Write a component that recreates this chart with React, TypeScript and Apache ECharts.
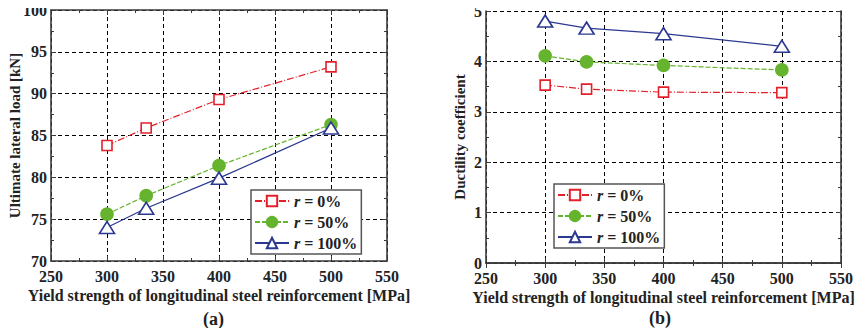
import React, { useEffect, useRef } from "react";
import * as echarts from "echarts";

// Yield strength of longitudinal steel reinforcement [MPa]
const yieldStrength = [300, 335, 400, 500];
const ratioNames = ["0%", "50%", "100%"];

// Ultimate lateral load [kN]
const loadR0 = [83.8, 85.9, 89.3, 93.2];
const loadR50 = [75.6, 77.8, 81.4, 86.3];
const loadR100 = [74.0, 76.3, 79.9, 85.9];

// Ductility coefficient
const ductR0 = [3.53, 3.45, 3.39, 3.38];
const ductR50 = [4.11, 3.99, 3.92, 3.83];
const ductR100 = [4.8, 4.66, 4.55, 4.3];

const FONT = "Liberation Serif";
const RED = "#e3202a";
const GREEN = "#66b32e";
const BLUE = "#2b3990";
const FRAME = "#3a3a3a";
const TEXT = "#222";

const pair = (ys: number[]) => yieldStrength.map((x, i) => [x, ys[i]]);

const seriesStyles = [
  { color: RED, line: [7, 2, 1, 2], symbol: "rect", size: 10, fill: "#fff" },
  { color: GREEN, line: [5, 2], symbol: "circle", size: 12, fill: GREEN },
  { color: BLUE, line: "solid", symbol: "triangle", size: [15, 12], fill: "#fff" },
];

function makeSeries(grid: number, data: number[][]) {
  return data.map((ys, k) => {
    const s = seriesStyles[k];
    return {
      type: "line",
      name: ratioNames[k],
      xAxisIndex: grid * 2,
      yAxisIndex: grid * 2,
      data: pair(ys),
      symbol: s.symbol,
      symbolSize: s.size,
      z: 5 + k,
      lineStyle: { color: s.color, width: 1.2, type: s.line },
      itemStyle: { color: s.fill, borderColor: s.color, borderWidth: 1.6 },
    };
  });
}

function xAxes(grid: number) {
  const base = {
    type: "value",
    gridIndex: grid,
    min: 250,
    max: 550,
    interval: 50,
    axisLine: { show: true, lineStyle: { color: FRAME, width: 1.6 } },
    axisTick: { show: true, inside: true, length: 5, lineStyle: { color: FRAME } },
    minorTick: { show: true, splitNumber: 2, length: 3, lineStyle: { color: FRAME } },
  };
  return [
    {
      ...base,
      position: "bottom",
      name: "Yield strength of longitudinal steel reinforcement [MPa]",
      nameLocation: "middle",
      nameGap: 26,
      nameMoveOverlap: false,
      nameTextStyle: { fontFamily: FONT, fontWeight: "bold", fontSize: 16, color: TEXT },
      axisLabel: { fontFamily: FONT, fontWeight: "bold", fontSize: 16, lineHeight: 13, color: TEXT, margin: 9 },
      splitLine: { show: true, lineStyle: { color: "#000", type: [4, 3], width: 1 } },
    },
    {
      ...base,
      position: "top",
      axisLabel: { show: false },
      splitLine: { show: false },
    },
  ];
}

function yAxes(grid: number, min: number, max: number, interval: number, name: string, gap: number) {
  const base = {
    type: "value",
    gridIndex: grid,
    min,
    max,
    interval,
    axisLine: { show: true, lineStyle: { color: FRAME, width: 1.6 } },
    axisTick: { show: true, inside: true, length: 5, lineStyle: { color: FRAME } },
    minorTick: { show: true, splitNumber: 2, length: 3, lineStyle: { color: FRAME } },
  };
  return [
    {
      ...base,
      position: "left",
      name,
      nameLocation: "middle",
      nameGap: gap,
      nameRotate: 90,
      nameMoveOverlap: false,
      nameTextStyle: { fontFamily: FONT, fontWeight: "bold", fontSize: 15, color: TEXT },
      axisLabel: { fontFamily: FONT, fontWeight: "bold", fontSize: 16, lineHeight: 11, color: TEXT, margin: 4 },
      splitLine: { show: true, lineStyle: { color: "#000", type: [4, 3], width: 1 } },
    },
    {
      ...base,
      position: "right",
      axisLabel: { show: false },
      splitLine: { show: false },
    },
  ];
}

function legend(left: number, top: number) {
  return {
    left,
    top,
    orient: "vertical",
    data: ratioNames,
    itemWidth: 34,
    itemHeight: 13,
    itemGap: 5,
    padding: [3, 4, 3, 3],
    backgroundColor: "#fff",
    borderColor: "#555",
    borderWidth: 1.5,
    borderRadius: 0,
    formatter: (n: string) => `{i|r} = ${n}`,
    textStyle: {
      fontFamily: FONT,
      fontWeight: "bold",
      fontSize: 16,
      color: TEXT,
      rich: {
        i: { fontFamily: FONT, fontWeight: "bold", fontStyle: "italic", fontSize: 16, color: TEXT },
      },
    },
  };
}

export default function App() {
  const ref = useRef<HTMLDivElement>(null);

  useEffect(() => {
    if (!ref.current) return;
    const chart = echarts.init(ref.current, undefined, { renderer: "svg" });
    chart.setOption({
      animation: false,
      backgroundColor: "#fff",
      textStyle: { fontFamily: FONT },
      grid: [
        { left: 51, top: 10, width: 336, height: 251, show: false },
        { left: 486, top: 11, width: 355, height: 252, show: false },
      ],
      xAxis: [...xAxes(0), ...xAxes(1)],
      yAxis: [
        ...yAxes(0, 70, 100, 5, "Ultimate lateral load [kN]", 29),
        ...yAxes(1, 0, 5, 1, "Ductility coefficient", 19),
      ],
      legend: [legend(251, 190), legend(554, 184)],
      title: [
        {
          text: "(a)",
          left: 198,
          top: 305,
          textStyle: { fontFamily: FONT, fontWeight: "bold", fontSize: 18, color: TEXT },
        },
        {
          text: "(b)",
          left: 644,
          top: 304,
          textStyle: { fontFamily: FONT, fontWeight: "bold", fontSize: 18, color: TEXT },
        },
      ],
      series: [
        ...makeSeries(0, [loadR0, loadR50, loadR100]),
        ...makeSeries(1, [ductR0, ductR50, ductR100]),
      ],
    });
    return () => chart.dispose();
  }, []);

  return <div ref={ref} style={{ width: 867, height: 336, margin: -8 }} />;
}
